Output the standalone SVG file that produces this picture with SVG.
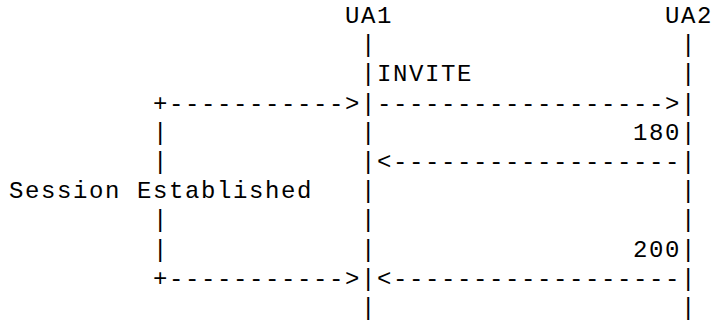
<svg xmlns="http://www.w3.org/2000/svg" width="714" height="325" viewBox="0 0 714 325">
<style>
text { font-family: "Liberation Mono", "Courier New", monospace; font-size: 24px; letter-spacing: 1.6px; fill: #000; white-space: pre; }
</style>
<rect width="714" height="325" fill="#fff"/>
<g id="art" xml:space="preserve">
<text x="9" y="23">                     UA1                 UA2</text>
<text x="9" y="52.2">                      |                   |</text>
<text x="9" y="81.4">                      |INVITE             |</text>
<text x="9" y="110.6">         +-----------&gt;|------------------&gt;|</text>
<text x="9" y="139.8">         |            |                180|</text>
<text x="9" y="169">         |            |&lt;------------------|</text>
<text x="9" y="198.2">Session Established   |                   |</text>
<text x="9" y="227.4">         |            |                   |</text>
<text x="9" y="256.6">         |            |                200|</text>
<text x="9" y="285.8">         +-----------&gt;|&lt;------------------|</text>
<text x="9" y="315">                      |                   |</text>
</g>
</svg>
